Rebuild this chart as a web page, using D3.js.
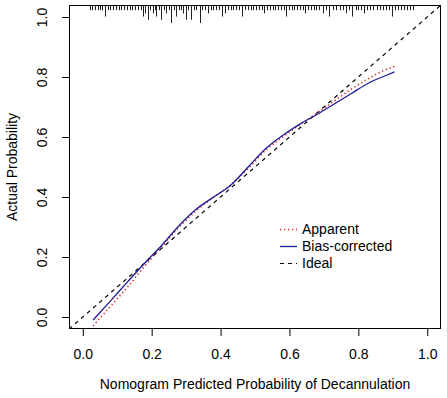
<!DOCTYPE html>
<html>
<head>
<meta charset="utf-8">
<script src="https://cdn.jsdelivr.net/npm/d3@7"></script>
<style>
	body { margin: 0; background: #fff; }
	#graphic text { font-family: "Liberation Sans", Arial, sans-serif; fill: #000; }
</style>
</head>
<body>
<div id="graphic"></div>
<script>
// predicted probability grid (x) for the two calibration curves
const predicted = [0.03, 0.08, 0.13, 0.18, 0.23, 0.28, 0.33, 0.38, 0.43, 0.48, 0.53, 0.58, 0.63, 0.68, 0.73, 0.78, 0.83, 0.88, 0.905];
const apparent = [-0.03, 0.035, 0.10, 0.17, 0.235, 0.30, 0.355, 0.40, 0.44, 0.495, 0.555, 0.60, 0.64, 0.68, 0.72, 0.76, 0.795, 0.825, 0.835];
const biasCorrected = [-0.01, 0.053, 0.117, 0.18, 0.24, 0.305, 0.36, 0.40, 0.44, 0.50, 0.56, 0.605, 0.643, 0.675, 0.71, 0.745, 0.78, 0.805, 0.817];

// rug of predicted values along the top (value, relative frequency)
const rugValues = [0.020, 0.028, 0.036, 0.044, 0.050, 0.057, 0.064, 0.072, 0.080, 0.088, 0.096, 0.104, 0.112, 0.120, 0.128, 0.136, 0.144, 0.152, 0.160, 0.168,
	0.175, 0.182, 0.189, 0.196, 0.203, 0.210, 0.214, 0.221, 0.228, 0.235, 0.242, 0.249, 0.257, 0.264, 0.271, 0.278, 0.285, 0.292, 0.299, 0.306,
	0.315, 0.322, 0.330, 0.339, 0.347, 0.355, 0.363, 0.371, 0.379, 0.387, 0.395, 0.405, 0.413, 0.421, 0.429, 0.437, 0.445, 0.453, 0.463, 0.471,
	0.479, 0.487, 0.495, 0.503, 0.511, 0.519, 0.527, 0.535, 0.543, 0.551, 0.559, 0.567, 0.575, 0.583, 0.590, 0.598, 0.606, 0.614, 0.622, 0.630,
	0.638, 0.646, 0.654, 0.662, 0.670, 0.678, 0.686, 0.696, 0.706, 0.716, 0.726, 0.736, 0.746, 0.755, 0.764, 0.773, 0.783, 0.792, 0.800, 0.808,
	0.817, 0.826, 0.835, 0.844, 0.853, 0.862, 0.871, 0.880, 0.889, 0.897, 0.905, 0.914, 0.923, 0.932, 0.941, 0.950, 0.960];
const rugCounts = [1, 1, 1, 1, 1, 1, 3, 1, 1, 1, 1, 1, 1, 1, 1, 1, 1, 1, 1, 1,
	3, 2, 4, 1, 2, 1, 3, 1, 4, 1, 2, 1, 5, 1, 3, 1, 1, 2, 4, 1,
	4, 1, 1, 5, 1, 1, 2, 1, 1, 1, 1, 3, 2, 1, 1, 1, 1, 1, 3, 1,
	1, 1, 1, 1, 1, 1, 2, 1, 1, 1, 1, 1, 1, 1, 3, 1, 1, 1, 1, 1,
	1, 2, 1, 1, 1, 1, 1, 2, 1, 3, 1, 1, 1, 1, 2, 1, 3, 1, 1, 1,
	2, 1, 1, 1, 1, 1, 1, 1, 1, 3, 1, 1, 1, 1, 1, 1, 1];

const axisTicks = [0, 0.2, 0.4, 0.6, 0.8, 1.0];
const legendLabels = ['Apparent', 'Bias-corrected', 'Ideal'];

const width = 447, height = 398;
const box = { left: 69, right: 441, top: 5, bottom: 329 };

function drawGraphic() {
	const svg = d3.select('#graphic')
		.append('svg')
		.attr('width', width)
		.attr('height', height);

	svg.append('rect').attr('width', width).attr('height', height).attr('fill', '#fff');

	// R style axes: range padded 4% either side
	const x = d3.scaleLinear().domain([-0.04, 1.04]).range([box.left, box.right]);
	const y = d3.scaleLinear().domain([-0.04, 1.04]).range([box.bottom, box.top]);

	const plot = svg.append('g');
	plot.append('clipPath').attr('id', 'clip')
		.append('rect')
		.attr('x', box.left).attr('y', box.top)
		.attr('width', box.right - box.left).attr('height', box.bottom - box.top);

	// ideal line
	plot.append('line')
		.attr('clip-path', 'url(#clip)')
		.attr('x1', x(-0.04)).attr('y1', y(-0.04))
		.attr('x2', x(1.04)).attr('y2', y(1.04))
		.attr('stroke', '#000')
		.attr('stroke-width', 1.2)
		.attr('stroke-dasharray', '4,4');

	const line = (vals) => d3.line()
		.x((d, i) => x(predicted[i]))
		.y((d) => y(d))
		.curve(d3.curveMonotoneX)(vals);

	plot.append('path')
		.attr('d', line(apparent))
		.attr('fill', 'none')
		.attr('stroke', '#d42a2a')
		.attr('stroke-width', 1.6)
		.attr('stroke-dasharray', '1.3,2.7');

	plot.append('path')
		.attr('d', line(biasCorrected))
		.attr('fill', 'none')
		.attr('stroke', '#1c1c9a')
		.attr('stroke-width', 1.3);

	// rug of predicted probabilities hanging from the top border
	const rugLen = d3.scaleLinear().domain([0, 5]).range([0, 16]);
	plot.append('g')
		.selectAll('line')
		.data(rugValues)
		.join('line')
		.attr('x1', (d) => Math.round(x(d)) + 0.5)
		.attr('x2', (d) => Math.round(x(d)) + 0.5)
		.attr('y1', box.top)
		.attr('y2', (d, i) => box.top + 2 + rugLen(rugCounts[i]))
		.attr('stroke', '#222')
		.attr('stroke-width', 1);

	// box
	svg.append('rect')
		.attr('x', box.left + 0.5).attr('y', box.top + 0.5)
		.attr('width', box.right - box.left - 1).attr('height', box.bottom - box.top - 1)
		.attr('fill', 'none')
		.attr('stroke', '#000')
		.attr('stroke-width', 1);

	// x axis
	const xAxis = svg.append('g')
		.attr('transform', `translate(0, ${box.bottom})`)
		.call(d3.axisBottom(x).tickValues(axisTicks).tickSize(7).tickSizeOuter(0).tickPadding(13).tickFormat(d3.format('.1f')));
	xAxis.select('.domain').remove();
	xAxis.selectAll('text').style('font-size', '14px');

	// y axis, labels parallel to the axis
	const yAxis = svg.append('g')
		.attr('transform', `translate(${box.left}, 0)`)
		.call(d3.axisLeft(y).tickValues(axisTicks).tickSize(7).tickSizeOuter(0).tickFormat(d3.format('.1f')));
	yAxis.select('.domain').remove();
	yAxis.selectAll('text')
		.style('font-size', '14px')
		.attr('x', null).attr('dy', null)
		.attr('text-anchor', 'middle')
		.attr('transform', 'translate(-27,0) rotate(-90)')
		.attr('dominant-baseline', 'central');

	// axis titles
	svg.append('text')
		.attr('x', x(0.5))
		.attr('y', 389)
		.attr('text-anchor', 'middle')
		.style('font-size', '14px')
		.text('Nomogram Predicted Probability of Decannulation');

	svg.append('text')
		.attr('transform', `translate(17, ${y(0.5)}) rotate(-90)`)
		.attr('text-anchor', 'middle')
		.style('font-size', '14px')
		.text('Actual Probability');

	// legend
	const legendStyles = [
		{ stroke: '#d42a2a', dash: '1.3,2.7', w: 1.6 },
		{ stroke: '#1c1c9a', dash: null, w: 1.3 },
		{ stroke: '#000', dash: '4,4', w: 1.2 }
	];
	const legend = svg.append('g').attr('transform', 'translate(280, 229)');
	legendLabels.forEach(function (label, i) {
		const row = legend.append('g').attr('transform', `translate(0, ${i * 17})`);
		row.append('line')
			.attr('x1', 0).attr('x2', 17)
			.attr('y1', 0.5).attr('y2', 0.5)
			.attr('stroke', legendStyles[i].stroke)
			.attr('stroke-width', legendStyles[i].w)
			.attr('stroke-dasharray', legendStyles[i].dash);
		row.append('text')
			.attr('x', 22)
			.attr('y', 0)
			.attr('dy', '0.35em')
			.style('font-size', '14px')
			.text(label);
	});
}

drawGraphic();
</script>
</body>
</html>
